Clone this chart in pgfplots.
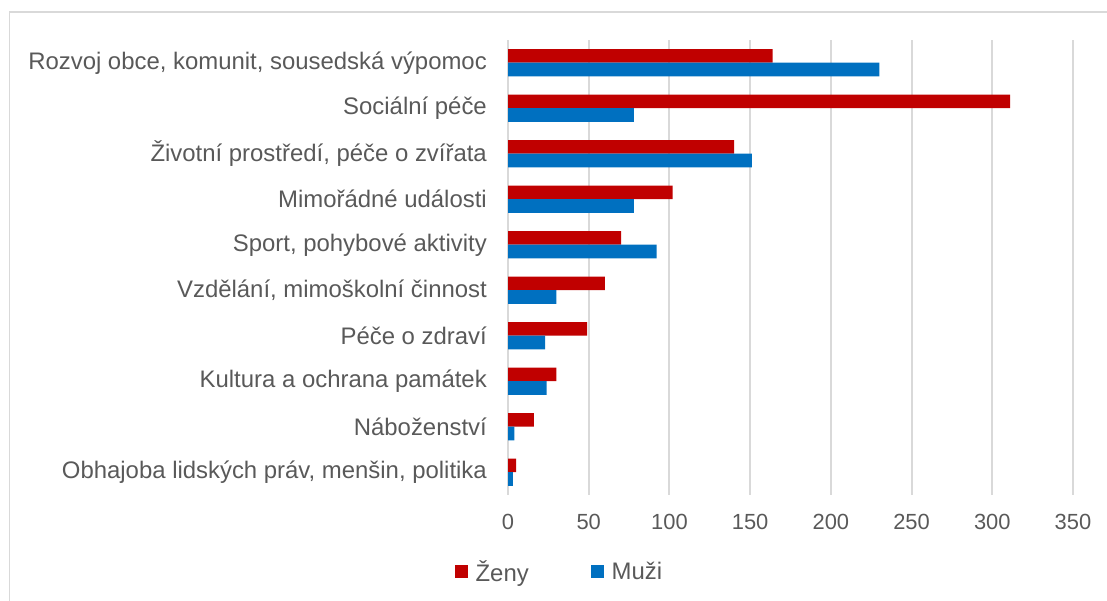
\documentclass[border=0pt]{standalone}
\usepackage{fontspec}
\setmainfont{Liberation Sans}
\usepackage{pgfplots}
\usepackage{pgfplotstable}
\pgfplotsset{compat=1.18}
\definecolor{zred}{HTML}{C00000}
\definecolor{mblue}{HTML}{0070C0}
\definecolor{gridgray}{HTML}{D9D9D9}
\definecolor{labelgray}{HTML}{595959}
\pgfplotstableread{
y zeny muzi
9 164 230
8 311 78
7 140 151
6 102 78
5 70 92
4 60 30
3 49 23
2 30 24
1 16 4
0 5 3
}\data
\begin{document}
\begin{tikzpicture}
\path[use as bounding box] (0,0) rectangle (1107bp,601bp);
\draw[gridgray, line width=1.2bp] (9.5bp,0) -- (9.5bp,589bp) -- (1107bp,589bp);
\begin{axis}[
  at={(508bp,106bp)}, anchor=south west,
  scale only axis, width=565bp, height=455bp,
  xbar, bar width=0.297,
  xmin=0, xmax=350, xtick={0,50,...,350},
  ymin=-0.5, ymax=9.5, ytick={0,...,9},
  yticklabels={Obhajoba lidských práv{,} menšin{,} politika, Náboženství, Kultura a ochrana památek, Péče o zdraví, {Vzdělání, mimoškolní činnost}, {Sport, pohybové aktivity}, Mimořádné události, {Životní prostředí, péče o zvířata}, Sociální péče, {Rozvoj obce, komunit, sousedská výpomoc}},
  xmajorgrids, grid style={color=gridgray, line width=2bp},
  axis line style={draw=none},
  major tick length=0pt,
  /pgf/number format/assume math mode=true,
  yticklabel style={font=\fontsize{24}{28}\selectfont, text=labelgray, anchor=east, inner sep=0pt, xshift=-21bp},
  xticklabel style={font=\fontsize{22}{26}\selectfont, text=labelgray, anchor=north, inner sep=0pt, yshift=-19bp},
  legend style={at={(0.091,-0.169)}, anchor=center, draw=none, fill=none, legend columns=2,
    font=\fontsize{24}{28}\selectfont, text=labelgray,
    /tikz/every even column/.append style={column sep=60bp}},
  legend image code/.code={\fill[#1] (0bp,-6.5bp) rectangle (13bp,6.5bp); \path (19bp,0bp);},
]
\addplot[fill=zred, draw=none, bar shift=0.1485] table[x=zeny, y=y] {\data};
\addlegendentry{Ženy}
\addplot[fill=mblue, draw=none, bar shift=-0.1485] table[x=muzi, y=y] {\data};
\addlegendentry{Muži}
\end{axis}
\end{tikzpicture}
\end{document}
